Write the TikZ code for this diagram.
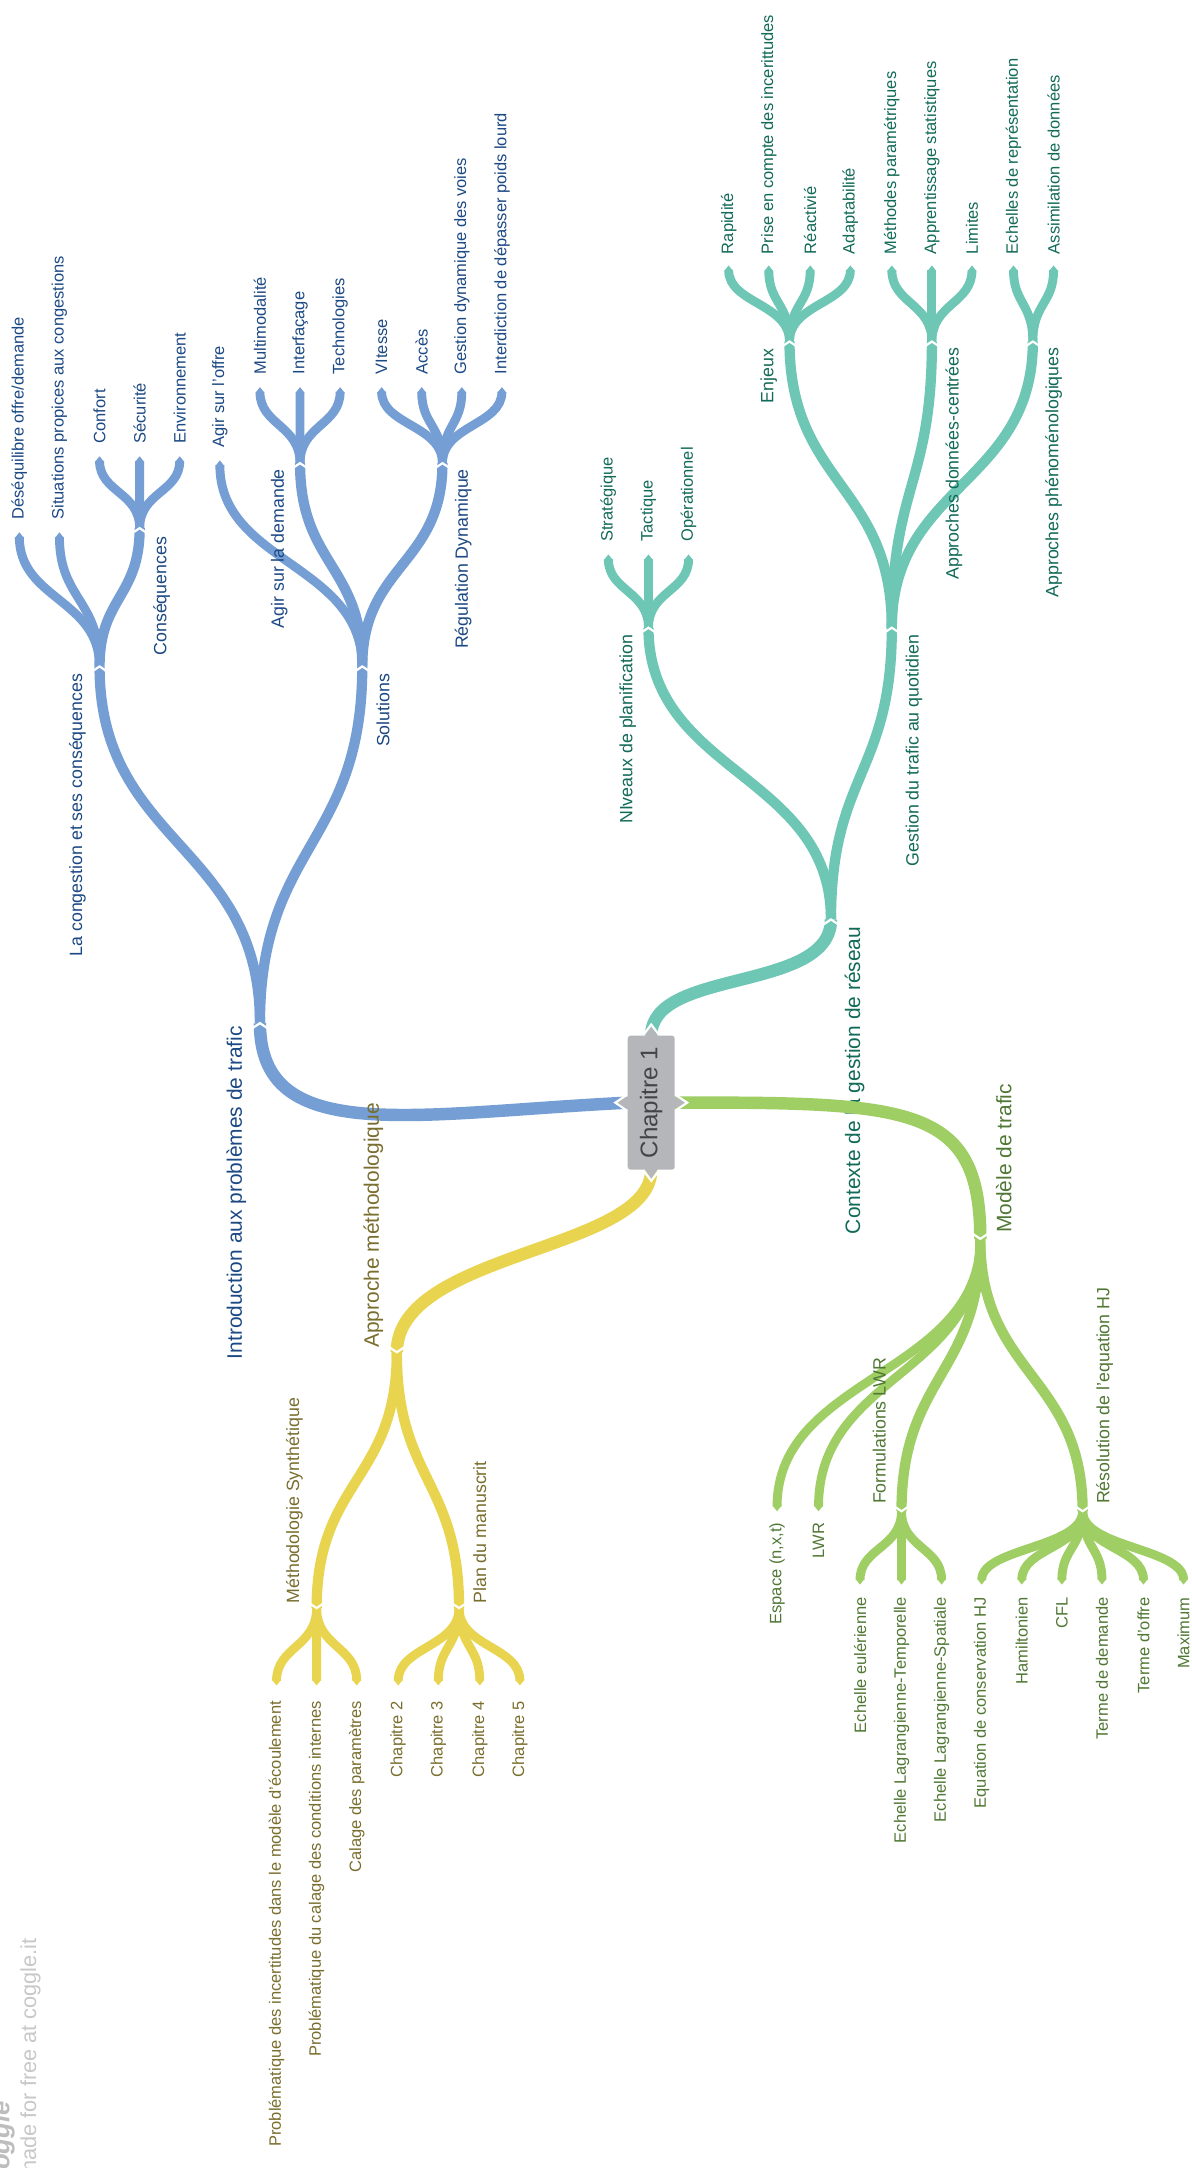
\documentclass[tikz,border=0pt]{standalone}
\usepackage{fontspec}
\setmainfont{Liberation Sans}
\usetikzlibrary{calc}

\definecolor{bline}{RGB}{117,158,212}
\definecolor{btext}{RGB}{28,73,132}
\definecolor{tline}{RGB}{110,198,180}
\definecolor{ttext}{RGB}{18,106,88}
\definecolor{gline}{RGB}{158,206,100}
\definecolor{gtext}{RGB}{80,120,52}
\definecolor{yline}{RGB}{233,212,80}
\definecolor{ytext}{RGB}{122,110,46}
\definecolor{rootfill}{RGB}{181,182,185}
\definecolor{roottext}{RGB}{68,68,70}
\definecolor{wmark}{RGB}{200,200,200}

\begin{document}
\begin{tikzpicture}[x=0.7pt, y=-0.7pt, every node/.style={inner sep=0pt, rotate=90},
  lab/.style={font=\fontsize{8.35}{9.5}\selectfont},
  mid/.style={font=\fontsize{9}{10.5}\selectfont},
  big/.style={font=\fontsize{10.6}{12.5}\selectfont},
  l1/.style={line width=6.3pt}, l2/.style={line width=5.2pt},
  lf/.style={line width=4.5pt, shorten >=2.4pt},
  vs/.style={to path={.. controls ($(\tikztostart)!0.5!(\tikztostart|-\tikztotarget)$) and ($(\tikztotarget)!0.5!(\tikztotarget|-\tikztostart)$) .. (\tikztotarget)}},
  chev/.style={draw=white, line width=1.1pt}]
\useasboundingbox (0,0) rectangle (862,1568);
\clip (0,0) rectangle (862,1568);
\fill[white] (0,0) rectangle (862,1568);

% root anchors
\coordinate (rt) at (471,749); \coordinate (rl) at (454,797.5); \coordinate (rr) at (488,797.5); \coordinate (rb) at (471,846);

% --- Introduction aux problemes de trafic
\coordinate (bI) at (188,740); \coordinate (bC) at (72,482); \coordinate (bS) at (262,482);
\coordinate (bQ) at (101,382); \coordinate (bD) at (217,335); \coordinate (bR) at (320,335);
\draw[bline, l1] (rl) .. controls (300,805) and (188,830) .. (bI);
\draw[bline, l2] (bI) to[vs] (bC); \draw[bline, l2] (bI) to[vs] (bS);
\draw[bline, l2] (bC) to[vs] (bQ);
\draw[bline, l2] (bS) to[vs] (bD); \draw[bline, l2] (bS) to[vs] (bR);
\foreach \x/\t [count=\i] in {14/{Déséquilibre offre/demande}, 43/{Situations propices aux congestions}} {
  \coordinate (bC\i) at (\x,385);
  \draw[bline, lf] (bC) to[vs] (bC\i); \fill[bline] (bC\i) -- ++(-3.2,4) -- ++(6.4,0) -- cycle;
  \node[lab, btext, anchor=west] (nbC\i) at (\x,376) {\t};}
\foreach \x/\t [count=\i] in {72/Confort, 101/Sécurité, 130/Environnement} {
  \coordinate (bQ\i) at (\x,330);
  \draw[bline, lf] (bQ) to[vs] (bQ\i); \fill[bline] (bQ\i) -- ++(-3.2,4) -- ++(6.4,0) -- cycle;
  \node[lab, btext, anchor=west] (nbQ\i) at (\x,321) {\t};}
\coordinate (bS1) at (159,333);
\draw[bline, lf] (bS) to[vs] (bS1); \fill[bline] (bS1) -- ++(-3.2,4) -- ++(6.4,0) -- cycle;
\node[lab, btext, anchor=west] (nbS1) at (159,324) {Agir sur l'offre};
\foreach \x/\t [count=\i] in {188/Multimodalité, 217/Interfaçage, 246/Technologies} {
  \coordinate (bD\i) at (\x,280);
  \draw[bline, lf] (bD) to[vs] (bD\i); \fill[bline] (bD\i) -- ++(-3.2,4) -- ++(6.4,0) -- cycle;
  \node[lab, btext, anchor=west] (nbD\i) at (\x,271) {\t};}
\foreach \x/\t [count=\i] in {276/VItesse, 305/Accès, 334/Gestion dynamique des voies, 363/Interdiction de dépasser poids lourd} {
  \coordinate (bR\i) at (\x,280);
  \draw[bline, lf] (bR) to[vs] (bR\i); \fill[bline] (bR\i) -- ++(-3.2,4) -- ++(6.4,0) -- cycle;
  \node[lab, btext, anchor=west] (nbR\i) at (\x,271) {\t};}
\node[big, btext, anchor=east] (nbI) at (171,742) {Introduction aux problèmes de trafic};
\node[mid, btext, anchor=east] (nbC) at (56,487) {La congestion et ses conséquences};
\node[mid, btext, anchor=east] (nbS) at (277,487) {Solutions};
\node[mid, btext, anchor=east] (nbQ) at (117,388) {Conséquences};
\node[mid, btext, anchor=east] (nbD) at (202,339) {Agir sur la demande};
\node[mid, btext, anchor=east] (nbR) at (335,339) {Régulation Dynamique};

% --- Contexte de la gestion de reseau
\coordinate (tC) at (601,665); \coordinate (tN) at (469,454); \coordinate (tG) at (645,454);
\coordinate (tE) at (571,247); \coordinate (tD) at (674,247); \coordinate (tP) at (747,247);
\draw[tline, l1] (rt) .. controls (471,700) and (601,718) .. (tC);
\draw[tline, l2] (tC) to[vs] (tN); \draw[tline, l2] (tC) to[vs] (tG);
\draw[tline, l2] (tG) to[vs] (tE); \draw[tline, l2] (tG) to[vs] (tD); \draw[tline, l2] (tG) to[vs] (tP);
\foreach \x/\t [count=\i] in {440/Stratégique, 469/Tactique, 498/Opérationnel} {
  \coordinate (tN\i) at (\x,401);
  \draw[tline, lf] (tN) to[vs] (tN\i); \fill[tline] (tN\i) -- ++(-3.2,4) -- ++(6.4,0) -- cycle;
  \node[lab, ttext, anchor=west] (ntN\i) at (\x,392) {\t};}
\foreach \x/\t [count=\i] in {527/Rapidité, 556/Prise en compte des incerittudes, 586/Réactivié, 615/Adaptabilité} {
  \coordinate (tE\i) at (\x,192);
  \draw[tline, lf] (tE) to[vs] (tE\i); \fill[tline] (tE\i) -- ++(-3.2,4) -- ++(6.4,0) -- cycle;
  \node[lab, ttext, anchor=west] (ntE\i) at (\x,184) {\t};}
\foreach \x/\t [count=\i] in {645/Méthodes paramétriques, 674/Apprentissage statistiques, 703/Limites} {
  \coordinate (tD\i) at (\x,192);
  \draw[tline, lf] (tD) to[vs] (tD\i); \fill[tline] (tD\i) -- ++(-3.2,4) -- ++(6.4,0) -- cycle;
  \node[lab, ttext, anchor=west] (ntD\i) at (\x,184) {\t};}
\foreach \x/\t [count=\i] in {733/Echelles de représentation, 762/Assimilation de données} {
  \coordinate (tP\i) at (\x,192);
  \draw[tline, lf] (tP) to[vs] (tP\i); \fill[tline] (tP\i) -- ++(-3.2,4) -- ++(6.4,0) -- cycle;
  \node[lab, ttext, anchor=west] (ntP\i) at (\x,184) {\t};}
\node[big, ttext, anchor=east] (ntC) at (618,670) {Contexte de la gestion de réseau};
\node[mid, ttext, anchor=east] (ntN) at (454,459) {NIveaux de planification};
\node[mid, ttext, anchor=east] (ntG) at (661,459) {Gestion du trafic au quotidien};
\node[mid, ttext, anchor=east] (ntE) at (556,252) {Enjeux};
\node[mid, ttext, anchor=east] (ntD) at (690,251) {Approches données-centrées};
\node[mid, ttext, anchor=east] (ntP) at (762,251) {Approches phénoménologiques};

% --- Modele de trafic
\coordinate (gM) at (709,896); \coordinate (gF) at (652,1093); \coordinate (gR) at (783,1093);
\draw[gline, l1] (rr) .. controls (660,797) and (709,800) .. (gM);
\draw[gline, l2] (gM) to[vs] (gF); \draw[gline, l2] (gM) to[vs] (gR);
\foreach \x/\t [count=\i] in {562/{Espace (n,x,t)}, 592/LWR} {
  \coordinate (gM\i) at (\x,1093);
  \draw[gline, lf] (gM) to[vs] (gM\i); \fill[gline] (gM\i) -- ++(-3.2,-4) -- ++(6.4,0) -- cycle;
  \node[lab, gtext, anchor=east] (ngM\i) at (\x,1101) {\t};}
\foreach \x/\t [count=\i] in {622/Echelle eulérienne, 652/Echelle Lagrangienne-Temporelle, 681/Echelle Lagrangienne-Spatiale} {
  \coordinate (gF\i) at (\x,1146);
  \draw[gline, lf] (gF) to[vs] (gF\i); \fill[gline] (gF\i) -- ++(-3.2,-4) -- ++(6.4,0) -- cycle;
  \node[lab, gtext, anchor=east] (ngF\i) at (\x,1155) {\t};}
\foreach \x/\t [count=\i] in {710/Equation de conservation HJ, 739/Hamiltonien, 768/CFL, 797/Terme de demande, 827/Terme d'offre, 856/Maximum} {
  \coordinate (gR\i) at (\x,1146);
  \draw[gline, lf] (gR) to[vs] (gR\i); \fill[gline] (gR\i) -- ++(-3.2,-4) -- ++(6.4,0) -- cycle;
  \node[lab, gtext, anchor=east] (ngR\i) at (\x,1155) {\t};}
\node[big, gtext, anchor=west] (ngM) at (726,892) {Modèle de trafic};
\node[mid, gtext, anchor=west] (ngF) at (636,1088) {Formulations LWR};
\node[mid, gtext, anchor=west] (ngR) at (799,1088) {Résolution de l'equation HJ};

% --- Approche methodologique
\coordinate (yA) at (287,978); \coordinate (yM) at (229,1163); \coordinate (yP) at (332,1163);
\draw[yline, l1] (rb) .. controls (471,905) and (287,905) .. (yA);
\draw[yline, l2] (yA) to[vs] (yM); \draw[yline, l2] (yA) to[vs] (yP);
\foreach \x/\t [count=\i] in {200/Problématique des incertitudes dans le modèle d'écoulement, 229/Problématique du calage des conditions internes, 258/Calage des paramètres} {
  \coordinate (yM\i) at (\x,1219);
  \draw[yline, lf] (yM) to[vs] (yM\i); \fill[yline] (yM\i) -- ++(-3.2,-4) -- ++(6.4,0) -- cycle;
  \node[lab, ytext, anchor=east] (nyM\i) at (\x,1230) {\t};}
\foreach \x [count=\i from 2] in {288,317,347,376} {
  \coordinate (yP\i) at (\x,1219);
  \draw[yline, lf] (yP) to[vs] (yP\i); \fill[yline] (yP\i) -- ++(-3.2,-4) -- ++(6.4,0) -- cycle;
  \node[lab, ytext, anchor=east] (nyP\i) at (\x,1230) {Chapitre \i};}
\node[big, ytext, anchor=west] (nyA) at (270,975) {Approche méthodologique};
\node[mid, ytext, anchor=west] (nyM) at (213,1160) {Méthodologie Synthétique};
\node[mid, ytext, anchor=west] (nyP) at (347,1160) {Plan du manuscrit};

% junction notches
\foreach \j in {bI,bC,bS,bQ,bD,bR,tC,tN,tG,tE,tD,tP}
  \draw[chev] ($(\j)+(-6,4)$) -- (\j) -- ($(\j)+(6,4)$);
\foreach \j in {gM,gF,gR,yA,yM,yP}
  \draw[chev] ($(\j)+(-6,-4)$) -- (\j) -- ($(\j)+(6,-4)$);

% root box
\fill[rootfill] (466,750) -- (471,742) -- (476,750) -- cycle; \draw[chev] (465,749) -- (471,741) -- (477,749);
\fill[rootfill] (455,792.5) -- (446,797.5) -- (455,802.5) -- cycle; \draw[chev] (454,791.5) -- (445,797.5) -- (454,803.5);
\fill[rootfill] (487,792.5) -- (496,797.5) -- (487,802.5) -- cycle; \draw[chev] (488,791.5) -- (497,797.5) -- (488,803.5);
\fill[rootfill] (466,845) -- (471,853) -- (476,845) -- cycle; \draw[chev] (465,846) -- (471,854) -- (477,846);
\node[fill=rootfill, rounded corners=1.5pt, minimum width=67.9pt, minimum height=23.8pt, text=roottext, font=\fontsize{12.2}{14}\selectfont] (root) at (471,797.5) {Chapitre 1};

% watermark
\node[font=\fontsize{11}{13}\selectfont, text=wmark, anchor=west] (wm) at (22,1576) {made for free at coggle.it};
\node[font=\bfseries\itshape\fontsize{13}{14}\selectfont, text=wmark!85!gray, anchor=west] (logo) at (2,1580) {coggle};
\end{tikzpicture}
\end{document}
